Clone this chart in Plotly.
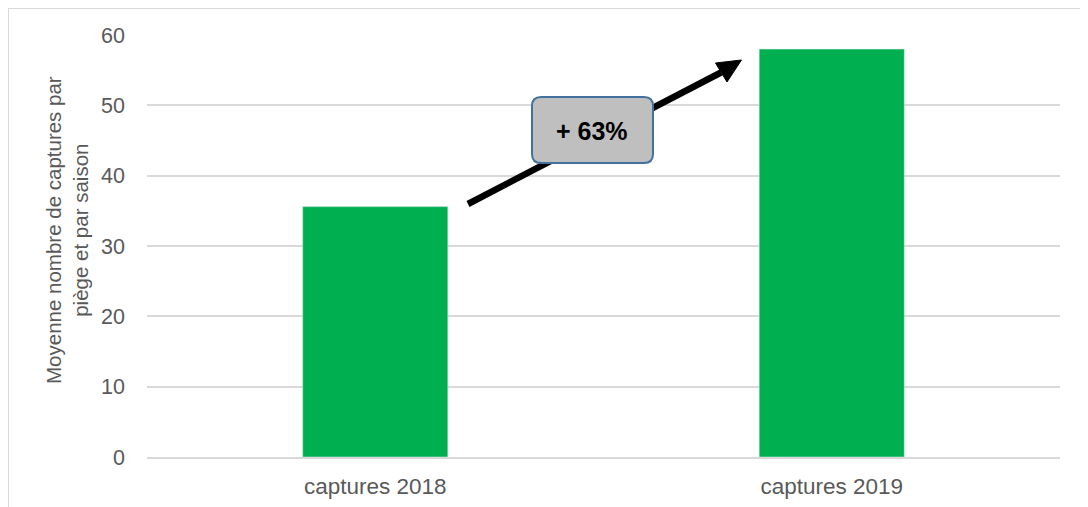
import plotly.graph_objects as go

categories = ["captures 2018", "captures 2019"]
values = [35.6, 58.0]
y_ticks = [0, 10, 20, 30, 40, 50, 60]
title_text = "Moyenne nombre de captures par<br>piège et par saison"
badge_text = "<b>+ 63%</b>"

# the page puts the figure 8px in from the top-left corner
OFF = 8
W, H = 1088 - OFF, 507 - OFF
# plot area in figure pixels
L, R, T, B = 147 - OFF, 1060 - OFF, 35 - OFF, 457 - OFF


def pp(x, y):
    # window pixel -> paper coordinates
    x, y = x - OFF, y - OFF
    return (x - L) / (R - L), (B - y) / (B - T)


def rounded_rect(x0, y0, x1, y1, r):
    pts = []
    a = pp(x0 + r, y0); pts.append(f"M{a[0]},{a[1]}")
    a = pp(x1 - r, y0); pts.append(f"L{a[0]},{a[1]}")
    c = pp(x1, y0); a = pp(x1, y0 + r); pts.append(f"Q{c[0]},{c[1]} {a[0]},{a[1]}")
    a = pp(x1, y1 - r); pts.append(f"L{a[0]},{a[1]}")
    c = pp(x1, y1); a = pp(x1 - r, y1); pts.append(f"Q{c[0]},{c[1]} {a[0]},{a[1]}")
    a = pp(x0 + r, y1); pts.append(f"L{a[0]},{a[1]}")
    c = pp(x0, y1); a = pp(x0, y1 - r); pts.append(f"Q{c[0]},{c[1]} {a[0]},{a[1]}")
    a = pp(x0, y0 + r); pts.append(f"L{a[0]},{a[1]}")
    c = pp(x0, y0); a = pp(x0 + r, y0); pts.append(f"Q{c[0]},{c[1]} {a[0]},{a[1]}")
    return " ".join(pts) + " Z"


fig = go.Figure(
    go.Bar(x=categories, y=values, marker_color="#00B050", width=0.318)
)

grey = "#595959"
fig.update_layout(
    width=W,
    height=H,
    margin=dict(l=L, r=W - R, t=T, b=H - B),
    plot_bgcolor="white",
    paper_bgcolor="white",
    showlegend=False,
    font=dict(family="Liberation Sans, Arial", color=grey, size=22),
)
fig.update_yaxes(
    range=[0, 60],
    tickvals=y_ticks,
    showgrid=True,
    gridcolor="#d9d9d9",
    gridwidth=1.5,
    zeroline=False,
    showline=False,
    automargin=False,
    ticklabelstandoff=21,
    tickfont=dict(size=21.5, color=grey),
)
fig.update_xaxes(
    showline=True,
    linecolor="#d9d9d9",
    linewidth=1.5,
    automargin=False,
    ticklabelstandoff=8,
    tickfont=dict(size=22.5, color=grey),
)

# outer chart border (bottom edge runs off the page)
bx0, by0 = pp(8, 8)
bx1, by1 = pp(1086, 530)
shapes = [
    dict(type="rect", xref="paper", yref="paper", x0=bx0, y0=by1, x1=bx1, y1=by0,
         line=dict(color="#d9d9d9", width=2), layer="below"),
]

# arrow shaft + head
t0 = pp(468, 204)
hb = pp(721, 72.5)
tip = pp(741.5, 60)
c1 = pp(715.5, 63)
c2 = pp(727, 82)
shapes.append(dict(type="line", xref="paper", yref="paper",
                   x0=t0[0], y0=t0[1], x1=hb[0], y1=hb[1],
                   line=dict(color="black", width=6.5)))
shapes.append(dict(type="path", xref="paper", yref="paper",
                   path=f"M{tip[0]},{tip[1]} L{c1[0]},{c1[1]} L{c2[0]},{c2[1]} Z",
                   fillcolor="black", line=dict(color="black", width=1)))
# badge
shapes.append(dict(type="path", xref="paper", yref="paper",
                   path=rounded_rect(532, 97, 653, 163, 9),
                   fillcolor="#BFBFBF", line=dict(color="#41719C", width=2)))
fig.update_layout(shapes=shapes)

bc = pp(591.5, 131)
tc = pp(67, 230)
fig.add_annotation(x=bc[0], y=bc[1], xref="paper", yref="paper", text=badge_text,
                   showarrow=False, xanchor="center", yanchor="middle",
                   font=dict(size=25, color="black", family="Liberation Sans, Arial"))
fig.add_annotation(x=tc[0], y=tc[1], xref="paper", yref="paper", text=title_text,
                   showarrow=False, textangle=-90, xanchor="center", yanchor="middle",
                   font=dict(size=20.5, color=grey))

fig.write_html("out.html")
